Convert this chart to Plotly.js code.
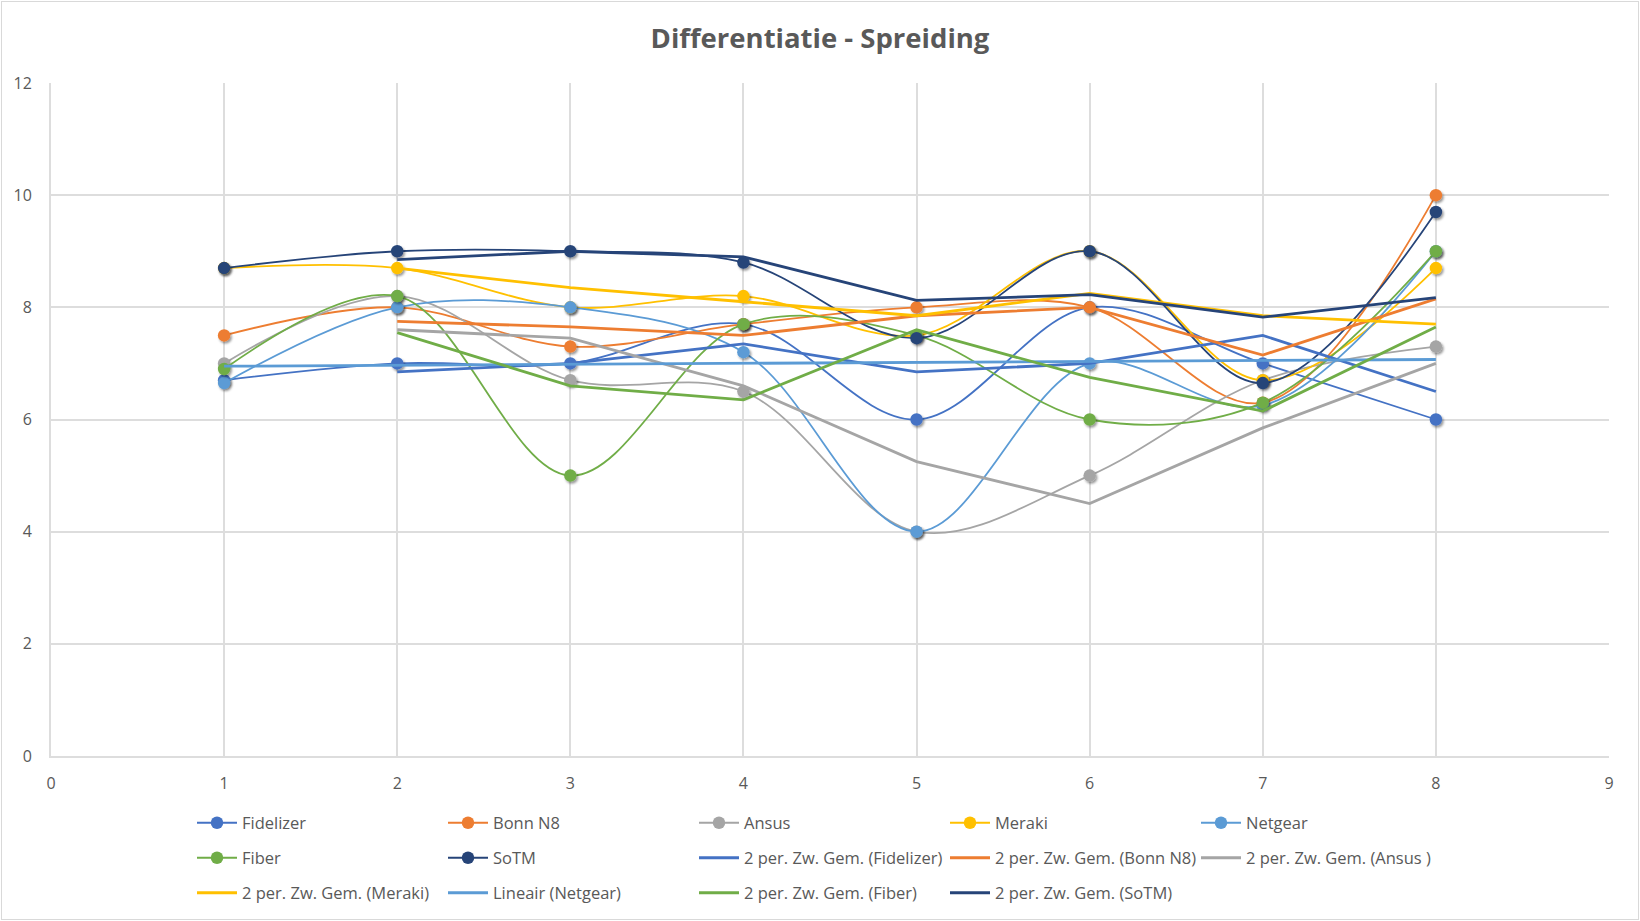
<!DOCTYPE html>
<html>
<head>
<meta charset="utf-8">
<script src="https://cdn.plot.ly/plotly-3.0.1.min.js"></script>
<style>
  body { margin: 0; background: #fff; }
  #wrap { position: relative; width: 1640px; height: 921px; }
  #chart { width: 1640px; height: 921px; }
  #frame { position: absolute; left: 1px; top: 1px; right: 1px; bottom: 1px;
           border: 1.5px solid #d9d9d9; pointer-events: none; }
</style>
</head>
<body>
<div id="wrap">
  <div id="chart"></div>
  <div id="frame"></div>
</div>
<script>
// values
const xs = [1, 2, 3, 4, 5, 6, 7, 8];

const fidelizer = [6.7, 7, 7, 7.7, 6, 8, 7, 6];
const bonnN8    = [7.5, 8, 7.3, 7.7, 8, 8, 6.3, 10];
const ansus     = [7, 8.2, 6.7, 6.5, 4, 5, 6.7, 7.3];
const meraki    = [8.7, 8.7, 8, 8.2, 7.5, 9, 6.7, 8.7];
const netgear   = [6.65, 8, 8, 7.2, 4, 7, 6.25, 9];
const fiber     = [6.9, 8.2, 5, 7.7, 7.5, 6, 6.3, 9];
const sotm      = [8.7, 9, 9, 8.8, 7.45, 9, 6.65, 9.7];

// trendlines (2 period moving averages, linear for Netgear)
const maFidelizer = [null, 6.85, 7, 7.35, 6.85, 7, 7.5, 6.5];
const maBonnN8    = [null, 7.75, 7.65, 7.5, 7.85, 8, 7.15, 8.15];
const maAnsus     = [null, 7.6, 7.45, 6.6, 5.25, 4.5, 5.85, 7];
const maMeraki    = [null, 8.7, 8.35, 8.1, 7.85, 8.25, 7.85, 7.7];
const linNetgearX = [1, 8];
const linNetgear  = [6.95, 7.07];
const maFiber     = [null, 7.55, 6.6, 6.35, 7.6, 6.75, 6.15, 7.65];
const maSotm      = [null, 8.85, 9, 8.9, 8.125, 8.225, 7.825, 8.175];

const C = {
  blue: '#4472C4', orange: '#ED7D31', grey: '#A5A5A5', gold: '#FFC000',
  sky: '#5B9BD5', green: '#70AD47', navy: '#264478'
};

function series(name, y, color) {
  return {
    x: xs, y, name,
    type: 'scatter', mode: 'lines+markers',
    line: { color, width: 1.8, shape: 'spline', smoothing: 1 },
    marker: { color, size: 12.5 },
  };
}

function trend(name, x, y, color) {
  return {
    x, y, name,
    type: 'scatter', mode: 'lines',
    line: { color, width: 2.8 },
  };
}

const traces = [
  series('Fidelizer', fidelizer, C.blue),
  series('Bonn N8', bonnN8, C.orange),
  series('Ansus', ansus, C.grey),
  series('Meraki', meraki, C.gold),
  series('Netgear', netgear, C.sky),
  series('Fiber', fiber, C.green),
  series('SoTM', sotm, C.navy),
  trend('2 per. Zw. Gem. (Fidelizer)', xs, maFidelizer, C.blue),
  trend('2 per. Zw. Gem. (Bonn N8)', xs, maBonnN8, C.orange),
  trend('2 per. Zw. Gem. (Ansus )', xs, maAnsus, C.grey),
  trend('2 per. Zw. Gem. (Meraki)', xs, maMeraki, C.gold),
  trend('Lineair (Netgear)', linNetgearX, linNetgear, C.sky),
  trend('2 per. Zw. Gem. (Fiber)', xs, maFiber, C.green),
  trend('2 per. Zw. Gem. (SoTM)', xs, maSotm, C.navy),
];

const W = 1640, H = 921;
const margin = { l: 51, r: 31, t: 83, b: 165, autoexpand: false };
const plotW = W - margin.l - margin.r;
const plotH = H - margin.t - margin.b;

const font = '"Open Sans", "DejaVu Sans", sans-serif';
const gridColor = '#dddddd';

const layout = {
  width: W, height: H,
  margin,
  paper_bgcolor: '#fff', plot_bgcolor: '#fff',
  font: { family: font, color: '#595959' },
  title: {
    text: 'Differentiatie - Spreiding',
    font: { family: font, size: 27.5, color: '#595959', weight: 'bold' },
    x: 0.5, xref: 'container', y: 1 - 38 / H, yanchor: 'middle',
  },
  xaxis: {
    range: [0, 9], dtick: 1, tick0: 0,
    showgrid: true, gridcolor: gridColor, gridwidth: 2,
    showline: true, linecolor: gridColor, linewidth: 2,
    zeroline: false, ticks: '', ticklabelstandoff: 12,
    tickfont: { family: font, size: 16, color: '#595959' },
  },
  yaxis: {
    range: [0, 12], dtick: 2, tick0: 0,
    showgrid: true, gridcolor: gridColor, gridwidth: 2,
    showline: true, linecolor: gridColor, linewidth: 2,
    zeroline: false, ticks: '', ticklabelstandoff: 14,
    tickfont: { family: font, size: 16, color: '#595959' },
  },
  showlegend: true,
};

// legend grid: 5 columns, rows below the plot (one legend per entry)
const legendLeft = 192, colStep = 251;
const rowCenters = [823, 858, 893];
traces.forEach((t, i) => {
  const key = i === 0 ? 'legend' : 'legend' + (i + 1);
  const row = Math.floor(i / 5), col = i % 5;
  t.legend = key;
  layout[key] = {
    orientation: 'h', xanchor: 'left', yanchor: 'middle',
    x: (legendLeft + col * colStep - margin.l) / plotW,
    y: (H - margin.b - rowCenters[row]) / plotH,
    itemwidth: 40,
    font: { family: font, size: 16.5, color: '#595959' },
    bgcolor: 'rgba(0,0,0,0)', borderwidth: 0,
  };
});

const gd = document.getElementById('chart');
Plotly.newPlot(gd, traces, layout, { displayModeBar: false, staticPlot: true }).then(() => {
  // soft drop shadow under the markers, like the Excel original
  const svgNS = 'http://www.w3.org/2000/svg';
  const svg = gd.querySelector('svg.main-svg');
  let defs = svg.querySelector('defs');
  if (!defs) { defs = document.createElementNS(svgNS, 'defs'); svg.insertBefore(defs, svg.firstChild); }
  const f = document.createElementNS(svgNS, 'filter');
  f.setAttribute('id', 'mkshadow');
  f.setAttribute('x', '-60%'); f.setAttribute('y', '-60%');
  f.setAttribute('width', '220%'); f.setAttribute('height', '220%');
  const ds = document.createElementNS(svgNS, 'feDropShadow');
  ds.setAttribute('dx', '1.5'); ds.setAttribute('dy', '2');
  ds.setAttribute('stdDeviation', '1.3');
  ds.setAttribute('flood-color', '#000'); ds.setAttribute('flood-opacity', '0.4');
  f.appendChild(ds);
  defs.appendChild(f);
  gd.querySelectorAll('.scatterlayer .points path').forEach(p => p.setAttribute('filter', 'url(#mkshadow)'));
});
</script>
</body>
</html>
